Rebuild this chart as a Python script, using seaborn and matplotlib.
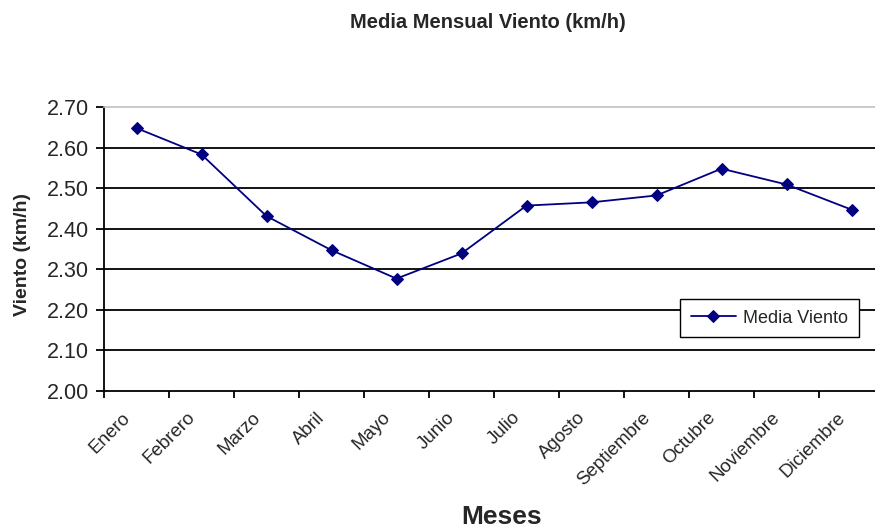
import matplotlib
matplotlib.use("Agg")
import matplotlib.pyplot as plt
import matplotlib.transforms as mtransforms
import seaborn as sns
import pandas as pd
import numpy as np

# Monthly mean wind speed
meses = ["Enero", "Febrero", "Marzo", "Abril", "Mayo", "Junio", "Julio",
         "Agosto", "Septiembre", "Octubre", "Noviembre", "Diciembre"]
viento = [2.648, 2.583, 2.431, 2.347, 2.277, 2.339, 2.457,
          2.465, 2.482, 2.548, 2.509, 2.447]
y_ticks = [2.00, 2.10, 2.20, 2.30, 2.40, 2.50, 2.60, 2.70]

sns.set_style("white")
plt.rcParams["font.family"] = ["Liberation Sans", "DejaVu Sans"]

df = pd.DataFrame({"Mes": meses, "Viento": viento})
df["pos"] = np.arange(len(meses))

fig = plt.figure(figsize=(8.75, 5.28), dpi=100)
ax = fig.add_axes([104 / 875, 1 - 391 / 528, 780 / 875, 284 / 528])

sns.lineplot(data=df, x="pos", y="Viento", ax=ax, color="#000080",
             marker="D", markersize=6.5, markeredgecolor="#000080",
             linewidth=1.3, label="Media Viento", zorder=3)

ax.set_xlim(-0.5, len(meses) - 0.5)
ax.set_ylim(y_ticks[0], y_ticks[-1])

# category labels at the centres, tick marks on the boundaries
ax.set_xticks(df["pos"])
ax.set_xticklabels(meses, rotation=45, ha="right", rotation_mode="anchor",
                   fontsize=13.5)
ax.set_xticks(np.arange(-0.5, len(meses), 1.0), minor=True)
ax.tick_params(axis="x", which="major", length=0, pad=13)
ax.tick_params(axis="x", which="minor", length=5, width=1.3, color="black",
               direction="out", bottom=True)
shift = mtransforms.ScaledTranslation(-15 / 100, 0, fig.dpi_scale_trans)
for lbl in ax.get_xticklabels():
    lbl.set_transform(lbl.get_transform() + shift)

ax.set_yticks(y_ticks)
ax.set_yticklabels([f"{v:.2f}" for v in y_ticks], fontsize=15.5)
ax.tick_params(axis="y", length=6, width=1.3, color="black", direction="out",
               left=True, pad=5)

for v in y_ticks[1:-1]:
    ax.axhline(v, color="black", linewidth=1.3, zorder=1)

for side in ("left", "bottom"):
    ax.spines[side].set_color("black")
    ax.spines[side].set_linewidth(1.3)
ax.spines["top"].set_color("#c0c0c0")
ax.spines["top"].set_linewidth(1.2)
ax.spines["right"].set_visible(False)

ax.set_xlabel("Meses", fontsize=19, fontweight="bold")
ax.xaxis.set_label_coords(0.51, -0.40)
ax.xaxis.label.set_va("top")
ax.set_ylabel("Viento (km/h)", fontsize=14, fontweight="bold")
ax.yaxis.set_label_coords(-0.094, 0.48)

fig.suptitle("Media Mensual Viento (km/h)", x=0.557, y=0.957, va="center",
             fontsize=14.5, fontweight="bold")

leg = ax.legend(loc="center", bbox_to_anchor=(0.853, 0.257), frameon=True,
                fancybox=False, fontsize=13, handlelength=2.5,
                borderpad=0.6, handletextpad=0.4)
leg.get_frame().set_edgecolor("black")
leg.get_frame().set_linewidth(1.0)
leg.get_frame().set_facecolor("white")
leg.get_frame().set_alpha(1)

fig.savefig("out.png", dpi=100)
